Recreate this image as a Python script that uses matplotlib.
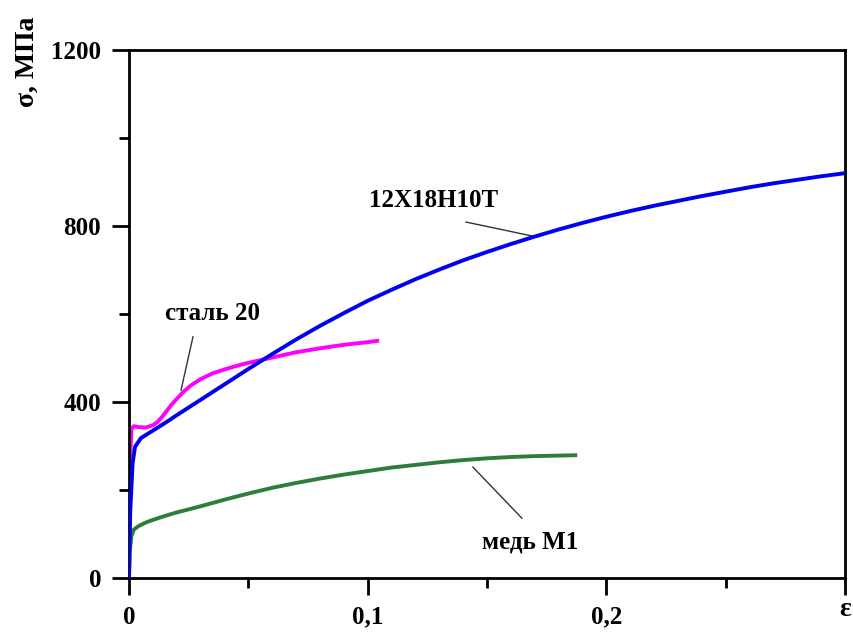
import matplotlib
matplotlib.use('agg')
import matplotlib.pyplot as plt
from matplotlib.ticker import MultipleLocator, FuncFormatter

plt.rcParams['font.family'] = ['Liberation Serif', 'DejaVu Serif']
plt.rcParams['font.weight'] = 'bold'

# 12X18H10T
steel_ss_eps = [0, 0.0005, 0.0015, 0.0025, 0.005, 0.01, 0.015, 0.02, 0.03, 0.04,
                0.05, 0.06, 0.07, 0.08, 0.09, 0.1, 0.11, 0.12, 0.13, 0.14, 0.15,
                0.16, 0.17, 0.18, 0.19, 0.2, 0.21, 0.22, 0.23, 0.24, 0.25, 0.26,
                0.27, 0.28, 0.29, 0.3]
steel_ss_sig = [0, 150, 260, 298, 318, 335, 352, 370, 405, 440,
                475, 509, 542, 573, 602, 630, 655, 679, 701, 722, 741,
                759, 776, 792, 807, 821, 834, 846, 857, 868, 878, 888,
                897, 905, 913, 920]

# сталь 20
steel20_eps = [0, 0.0003, 0.001, 0.002, 0.004, 0.007, 0.01, 0.012, 0.014, 0.016,
               0.018, 0.02, 0.023, 0.026, 0.03, 0.035, 0.04, 0.045, 0.05, 0.055,
               0.06, 0.07, 0.08, 0.09, 0.1, 0.104]
steel20_sig = [0, 250, 338, 345, 343, 342, 347, 355, 367, 381,
               395, 407, 424, 438, 452, 465, 474, 482, 489, 495,
               501, 513, 522, 530, 536, 539]

# медь М1
copper_eps = [0, 0.0003, 0.001, 0.002, 0.004, 0.007, 0.01, 0.015, 0.02, 0.03,
              0.04, 0.05, 0.06, 0.07, 0.08, 0.09, 0.1, 0.11, 0.12, 0.13,
              0.14, 0.15, 0.16, 0.17, 0.187]
copper_sig = [0, 60, 95, 110, 118, 126, 132, 141, 149, 163,
              178, 192, 205, 216, 226, 235, 243, 251, 257, 263,
              268, 272, 275, 277, 279]

fig = plt.figure(figsize=(8.54, 6.32), dpi=100)
ax = fig.add_axes([129 / 854, 54 / 632, 716 / 854, 528 / 632])

ax.plot(steel20_eps, steel20_sig, color='#ff00ff', lw=2.8, zorder=2)
ax.plot(steel_ss_eps, steel_ss_sig, color='#0000ee', lw=2.8, zorder=3)
ax.plot(copper_eps, copper_sig, color='#2e7d3a', lw=2.8, zorder=2)

ax.set_xlim(0, 0.3)
ax.set_ylim(0, 1200)

ax.xaxis.set_major_locator(MultipleLocator(0.1))
ax.xaxis.set_minor_locator(MultipleLocator(0.05))
ax.yaxis.set_major_locator(MultipleLocator(400))
ax.yaxis.set_minor_locator(MultipleLocator(200))

def comma_fmt(v, pos):
    if abs(v) < 1e-9:
        return '0'
    if v > 0.29:
        return ''
    return ('%g' % round(v, 2)).replace('.', ',')

ax.xaxis.set_major_formatter(FuncFormatter(comma_fmt))
ax.tick_params(which='major', direction='out', length=12, width=2,
               labelsize=18, pad=8, top=False, right=False)
ax.tick_params(which='minor', direction='out', length=7, width=2,
               top=False, right=False)
for lab in ax.get_xticklabels() + ax.get_yticklabels():
    lab.set_fontweight('bold')
for sp in ax.spines.values():
    sp.set_linewidth(2)

# annotations
ax.text(0.1278, 857, '12X18H10T', fontsize=18, fontweight='bold',
        ha='center', va='center')
ax.plot([0.1412, 0.1709], [809, 775], color='#333333', lw=1)
ax.text(0.0348, 602, 'сталь 20', fontsize=18, fontweight='bold',
        ha='center', va='center')
ax.plot([0.0268, 0.0218], [548, 427], color='#333333', lw=1)
ax.text(0.168, 82, 'медь М1', fontsize=18, fontweight='bold',
        ha='center', va='center')
ax.plot([0.1441, 0.1646], [252, 136], color='#333333', lw=1)

fig.text(27 / 854, 1 - 62 / 632, 'σ, МПа', rotation=90, fontsize=20,
         fontweight='bold', ha='center', va='center')
fig.text(845 / 854, 1 - 610 / 632, 'ε', fontsize=20, fontweight='bold',
         ha='center', va='center')

fig.savefig('out.png', dpi=100)
